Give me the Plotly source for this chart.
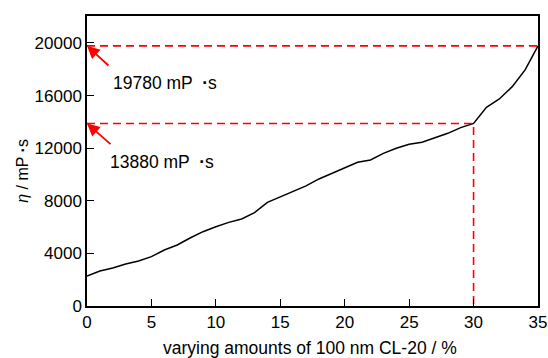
import plotly.graph_objects as go

x_vals = list(range(0, 36))
eta = [2280, 2660, 2890, 3190, 3420, 3750, 4260, 4640, 5170, 5650,
       6030, 6360, 6620, 7100, 7880, 8310, 8720, 9130, 9660, 10090,
       10500, 10930, 11100, 11610, 11990, 12300, 12450, 12800, 13130, 13560,
       13880, 15110, 15740, 16680, 17950, 19780]
mark_x = 30
mark_y1 = 13880
mark_y2 = 19780
x_ticks = [0, 5, 10, 15, 20, 25, 30, 35]
y_ticks = [0, 4000, 8000, 12000, 16000, 20000]
y_tick_text = ["0", "4000", "8000", "12000", "16000", "20000"]

FONT = "Liberation Sans, Arial, sans-serif"
RED = "#ff0000"

fig = go.Figure()
fig.add_trace(go.Scatter(x=x_vals, y=eta, mode="lines",
                         line=dict(color="black", width=1.5), showlegend=False))
fig.add_trace(go.Scatter(x=[0, 35], y=[mark_y2, mark_y2], mode="lines",
                         line=dict(color=RED, width=1.6, dash="8px,5px"), showlegend=False))
fig.add_trace(go.Scatter(x=[0, mark_x, mark_x], y=[mark_y1, mark_y1, 0], mode="lines",
                         line=dict(color=RED, width=1.6, dash="8px,5px"), showlegend=False))

fig.add_annotation(x=0, y=mark_y2, xref="x", yref="y", ax=23, ay=21, text="",
                   showarrow=True, arrowhead=2, arrowsize=1.4, arrowwidth=1.8, arrowcolor=RED)
fig.add_annotation(x=0, y=mark_y1, xref="x", yref="y", ax=25, ay=22, text="",
                   showarrow=True, arrowhead=2, arrowsize=1.4, arrowwidth=1.8, arrowcolor=RED)
fig.add_annotation(x=1.85, y=16950, xref="x", yref="y", xanchor="left", yanchor="middle",
                   text="19780 mP \u00a0<b>\u00b7</b>s", showarrow=False,
                   font=dict(family=FONT, size=17.5, color="black"))
fig.add_annotation(x=1.6, y=10950, xref="x", yref="y", xanchor="left", yanchor="middle",
                   text="13880 mP \u00a0<b>\u00b7</b>s", showarrow=False,
                   font=dict(family=FONT, size=17.5, color="black"))

fig.add_annotation(x=0.495, y=-0.103, xref="paper", yref="paper", yanchor="top",
                   xanchor="center",
                   text="varying amounts of 100 nm CL-20 / %", showarrow=False,
                   font=dict(family=FONT, size=17.5, color="black"))
fig.add_annotation(x=-0.142, y=0.466, xref="paper", yref="paper", textangle=-90,
                   xanchor="center", yanchor="middle",
                   text="<i>\u03b7</i> / mP <b>\u00b7</b>s", showarrow=False,
                   font=dict(family=FONT, size=16, color="black"))

fig.update_xaxes(range=[0, 35], tickvals=x_ticks, ticks="inside", ticklen=7, tickwidth=1.2,
                 tickcolor="black", showline=True, linecolor="black", linewidth=1.5,
                 mirror=True, showgrid=False, zeroline=False, automargin=False,
                 tickfont=dict(family=FONT, size=17, color="black"))
fig.update_yaxes(range=[0, 22050], tickvals=y_ticks, ticktext=y_tick_text,
                 ticks="inside", ticklen=7, tickwidth=1.2,
                 tickcolor="black", showline=True, linecolor="black", linewidth=1.5,
                 mirror=True, showgrid=False, zeroline=False, automargin=False,
                 tickfont=dict(family=FONT, size=17, color="black"))

fig.update_layout(width=548, height=358, margin=dict(l=87, r=10, t=16, b=52),
                  plot_bgcolor="white", paper_bgcolor="white")
fig.write_html("out.html", config={"displayModeBar": False},
               post_script="document.body.style.margin='0';document.body.style.overflow='hidden';")
